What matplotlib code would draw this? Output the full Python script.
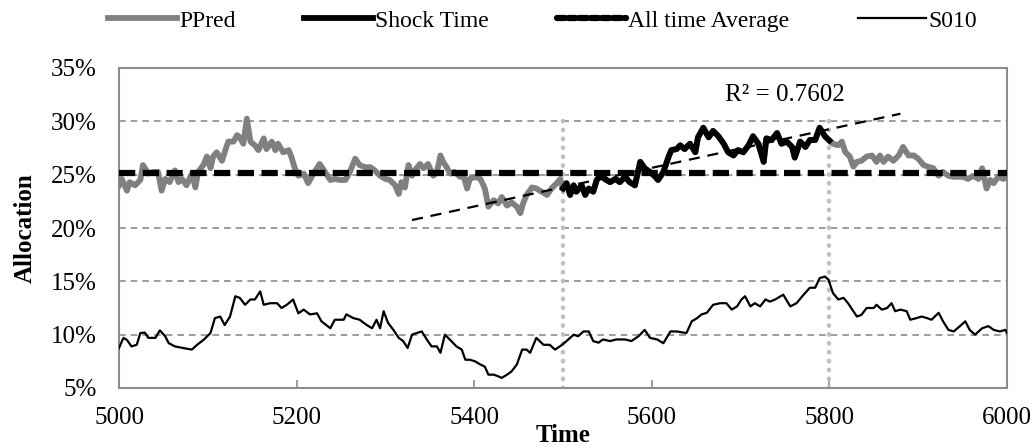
import numpy as np
import matplotlib
matplotlib.use("Agg")
import matplotlib.pyplot as plt
from matplotlib.lines import Line2D
from matplotlib.ticker import FuncFormatter

# ─── data ────────────────────────────────────────────────────────────────────

ppred_t = [5000, 5003, 5009, 5012, 5018, 5024, 5027, 5033, 5039, 5044, 5048, 5052,
           5057, 5063, 5067, 5071, 5076, 5082, 5086, 5089, 5095, 5099, 5103, 5106,
           5110, 5116, 5119, 5123, 5129, 5133, 5136, 5140, 5144, 5148, 5153, 5157,
           5163, 5166, 5172, 5176, 5179, 5185, 5191, 5194, 5198, 5202, 5208, 5213,
           5219, 5226, 5232, 5238, 5243, 5249, 5255, 5260, 5266, 5271,
           5277, 5283, 5288, 5294, 5300, 5305, 5311, 5315, 5318, 5322, 5326, 5330,
           5333, 5339, 5343, 5348, 5354, 5358, 5362, 5365, 5369, 5373, 5378, 5384,
           5388, 5392, 5395, 5401, 5407, 5412, 5416, 5422, 5427, 5431, 5437, 5442,
           5448, 5452, 5455, 5459, 5465, 5470, 5476, 5482, 5487, 5493, 5497, 5500,
           5504, 5508, 5512, 5515, 5521, 5525, 5529, 5534, 5538, 5542, 5547, 5553,
           5559, 5564, 5570, 5575, 5581, 5587, 5592, 5598, 5604, 5607, 5613, 5619,
           5622, 5628, 5632, 5637, 5643, 5649, 5652, 5658, 5664, 5669, 5675, 5681,
           5686, 5692, 5697, 5703, 5709, 5714, 5720, 5726, 5729, 5735, 5741, 5746,
           5752, 5758, 5761, 5767, 5773, 5778, 5784, 5789, 5795, 5800,
           5804, 5810, 5814, 5818, 5823, 5827, 5831, 5836, 5842, 5848, 5853, 5857,
           5861, 5866, 5872, 5878, 5883, 5889, 5895, 5900, 5906, 5911, 5917, 5923,
           5928, 5934, 5940, 5945, 5951, 5956, 5962, 5968, 5972, 5977, 5981, 5985,
           5990, 5996, 6000]
ppred_v = [24.0, 24.6, 23.5, 24.3, 24.0, 24.5, 25.9, 25.1, 25.25, 25.25, 23.5, 24.6,
           24.3, 25.4, 24.3, 24.6, 24.0, 25.1, 23.8, 25.25, 25.9, 26.7, 25.6, 26.7,
           27.1, 26.3, 27.1, 28.1, 28.1, 28.7, 28.5, 27.9, 30.25, 28.1, 27.75, 27.3,
           28.4, 27.4, 28.1, 27.3, 27.9, 27.1, 27.3, 26.7, 25.6, 24.9, 25.1, 24.2,
           25.1, 26.0, 25.25, 24.5, 24.6, 24.5, 24.5, 25.25, 26.5, 25.9,
           25.7, 25.7, 25.4, 24.9, 24.6, 24.5, 24.0, 23.2, 24.3, 23.8, 25.9, 24.9,
           25.4, 26.0, 25.6, 26.0, 24.9, 25.25, 26.8, 26.2, 25.7, 25.1, 25.25, 24.8,
           24.9, 23.7, 24.6, 24.8, 24.6, 23.7, 22.0, 22.6, 22.3, 22.9, 22.1, 22.4,
           22.0, 21.4, 22.3, 23.1, 23.8, 23.7, 23.4, 23.1, 23.7, 24.2, 24.6, 23.7,
           24.2, 23.1, 24.0, 23.4, 24.0, 23.1, 23.7, 23.4, 24.5, 24.9, 24.6, 24.3,
           24.6, 24.3, 24.8, 24.3, 24.0, 26.2, 25.6, 25.25, 24.8, 24.5, 25.25, 26.7,
           27.3, 27.4, 27.75, 27.4, 27.9, 27.1, 28.5, 29.4, 28.5, 29.1, 28.6, 27.9,
           27.1, 26.8, 27.3, 27.1, 27.75, 28.6, 27.9, 26.2, 28.4, 28.25, 28.9, 27.9,
           28.1, 27.6, 26.6, 28.1, 27.6, 28.25, 28.25, 29.4, 28.6, 28.2,
           27.9, 27.75, 28.1, 27.1, 26.7, 25.75, 26.2, 26.3, 26.7, 26.8, 26.2, 26.8,
           26.2, 26.7, 26.3, 26.8, 27.6, 26.8, 26.8, 26.5, 25.9, 25.75, 25.6, 24.9,
           25.25, 24.9, 24.8, 24.8, 24.8, 24.6, 24.9, 24.6, 25.6, 23.7, 24.5, 24.2,
           24.8, 24.6, 24.8]

s010_t = [5000, 5005, 5009, 5014, 5020, 5024, 5029, 5033, 5041, 5046, 5052, 5056,
          5063, 5072, 5082, 5088, 5095, 5103, 5108, 5114, 5119, 5125, 5131, 5136,
          5142, 5148, 5153, 5159, 5163, 5170, 5178, 5183, 5189, 5196, 5202, 5208,
          5215, 5223, 5228, 5238, 5243, 5253, 5256, 5264, 5271, 5279, 5285, 5290,
          5294, 5298, 5303, 5309, 5315, 5320, 5325, 5330, 5335, 5341, 5347, 5352,
          5358, 5362, 5367, 5373, 5380, 5386, 5390, 5395, 5401, 5407, 5412, 5416,
          5422, 5427, 5431, 5437, 5442, 5448, 5454, 5459, 5463, 5470, 5478, 5485,
          5491, 5499,
          5504, 5512, 5517, 5523, 5529, 5534, 5540, 5545, 5553, 5560, 5570, 5577,
          5585, 5592, 5598, 5606, 5613, 5621, 5628, 5639, 5645, 5651, 5656, 5662,
          5669, 5677, 5684, 5690, 5696, 5701, 5705, 5711, 5716, 5722, 5728, 5733,
          5739, 5748, 5756, 5763, 5771, 5778, 5784, 5789, 5795, 5799, 5804, 5810,
          5816, 5821, 5827, 5831, 5836, 5842, 5850, 5853, 5859, 5865, 5870, 5874,
          5880, 5887, 5891, 5898, 5904, 5910, 5915, 5923, 5928, 5934, 5940, 5947,
          5953, 5958, 5964, 5972, 5979, 5985, 5992, 5998, 6000]
s010_v = [8.75, 9.7, 9.5, 8.9, 9.05, 10.15, 10.2, 9.7, 9.7, 10.4, 9.85, 9.2,
          8.9, 8.75, 8.6, 9.05, 9.5, 10.15, 11.55, 11.7, 10.9, 11.7, 13.6, 13.45,
          12.8, 13.3, 13.3, 14.05, 12.8, 12.95, 12.95, 12.5, 12.8, 13.3, 12.0, 12.35,
          11.9, 12.0, 11.25, 10.6, 11.4, 11.4, 11.9, 11.55, 11.4, 10.9, 10.6, 11.4,
          10.6, 12.2, 11.1, 10.45, 9.7, 9.4, 8.75, 10.0, 10.15, 10.3, 9.5, 8.9,
          8.9, 8.3, 10.0, 9.5, 8.9, 8.6, 7.65, 7.65, 7.5, 7.2, 7.0, 6.25,
          6.25, 6.1, 5.95, 6.25, 6.55, 7.2, 8.6, 8.6, 8.3, 9.7, 9.05, 9.05,
          8.6, 9.05,
          9.4, 10.0, 9.85, 10.3, 10.3, 9.4, 9.25, 9.55, 9.4, 9.55, 9.55, 9.4,
          9.85, 10.45, 9.7, 9.55, 9.2, 10.3, 10.3, 10.15, 11.25, 11.55, 11.9, 12.05,
          12.8, 12.95, 12.95, 12.35, 12.65, 13.3, 13.6, 12.65, 12.95, 12.65, 13.3, 13.1,
          13.3, 13.75, 12.65, 12.95, 13.75, 14.4, 14.4, 15.3, 15.45, 15.15, 13.9, 13.3,
          13.45, 12.95, 12.2, 11.7, 11.85, 12.5, 12.5, 12.8, 12.35, 12.5, 12.95, 12.2,
          12.35, 12.2, 11.4, 11.55, 11.7, 11.55, 11.4, 12.05, 11.25, 10.45, 10.3, 10.8,
          11.25, 10.45, 10.0, 10.6, 10.8, 10.45, 10.3, 10.45, 10.15]

AVERAGE     = 25.2          # all time average allocation (%)
SHOCK       = (5500, 5800)  # shock window
TREND_SPAN  = (5330, 5880)  # trendline with backward / forward forecast
R2_LABEL    = "R² = 0.7602"

# ─── style ───────────────────────────────────────────────────────────────────

C_GRAY   = "#808080"
C_LIGHT  = "#BFBFBF"
C_FRAME  = "#8C8C8C"
FS       = 18

plt.rcParams["font.family"] = ["Liberation Serif", "DejaVu Serif"]
plt.rcParams["font.size"] = FS

ppred_t = np.array(ppred_t); ppred_v = np.array(ppred_v)
mask = (ppred_t >= SHOCK[0]) & (ppred_t <= SHOCK[1])
shock_t, shock_v = ppred_t[mask], ppred_v[mask]

fig = plt.figure(figsize=(10.36, 4.46), dpi=100)
ax = fig.add_axes([119 / 1036, 58 / 446, 888 / 1036, 320 / 446])

# grid + shock markers
for y in [10, 15, 20, 25, 30]:
    ax.axhline(y, color=C_FRAME, lw=1.2, ls=(0, (4, 3)), zorder=1)
ax.vlines(SHOCK, 5, 30, color=C_LIGHT, lw=3.2, ls=(0, (0.1, 1.9)),
          capstyle="round", zorder=2)

# series
ax.plot(ppred_t, ppred_v, color=C_GRAY, lw=4.2, solid_joinstyle="round", zorder=3)
ax.plot(shock_t, shock_v, color="black", lw=4.2, solid_joinstyle="round", zorder=4)
ax.plot([5000, 6000], [AVERAGE, AVERAGE], color="black", lw=4.5,
        ls=(0, (2.6, 1.2)), zorder=5)
ax.plot(s010_t, s010_v, color="black", lw=1.6, zorder=3)

# linear trend of the shock window
k, b = np.polyfit(shock_t, shock_v, 1)
tt = np.array(TREND_SPAN)
ax.plot(tt, k * tt + b, color="black", lw=1.6, ls=(0, (5, 3.5)), zorder=6)
ax.text(5682, 32.5, R2_LABEL, ha="left", va="center", fontsize=FS)

ax.set_xlim(5000, 6000)
ax.set_ylim(5, 35)
ax.set_xticks(range(5000, 6001, 200))
ax.set_yticks(range(5, 36, 5))
ax.yaxis.set_major_formatter(FuncFormatter(lambda v, _: f"{v:.0f}%"))
for s in ax.spines.values():
    s.set_color(C_FRAME)
    s.set_linewidth(1.5)
ax.tick_params(axis="x", direction="in", length=6, width=1.2, color=C_FRAME, pad=14)
ax.tick_params(axis="y", length=0, pad=16)
ax.set_xlabel("Time", fontweight="bold", labelpad=-4)
ax.set_ylabel("Allocation", fontweight="bold", labelpad=10)

handles = [
    Line2D([], [], color=C_GRAY, lw=4.2),
    Line2D([], [], color="black", lw=4.2),
    Line2D([], [], color="black", lw=4.5, ls=(0, (1.2, 0.6)), dash_capstyle="round"),
    Line2D([], [], color="black", lw=1.6),
]
fig.legend(handles, ["PPred", "Shock Time", "All time Average", "S010"],
           loc="upper center", bbox_to_anchor=(0.524, 1.025), ncol=4, frameon=False,
           handlelength=2.9, handletextpad=0.1, columnspacing=2.9, fontsize=17)

fig.savefig("out.png", dpi=100)
